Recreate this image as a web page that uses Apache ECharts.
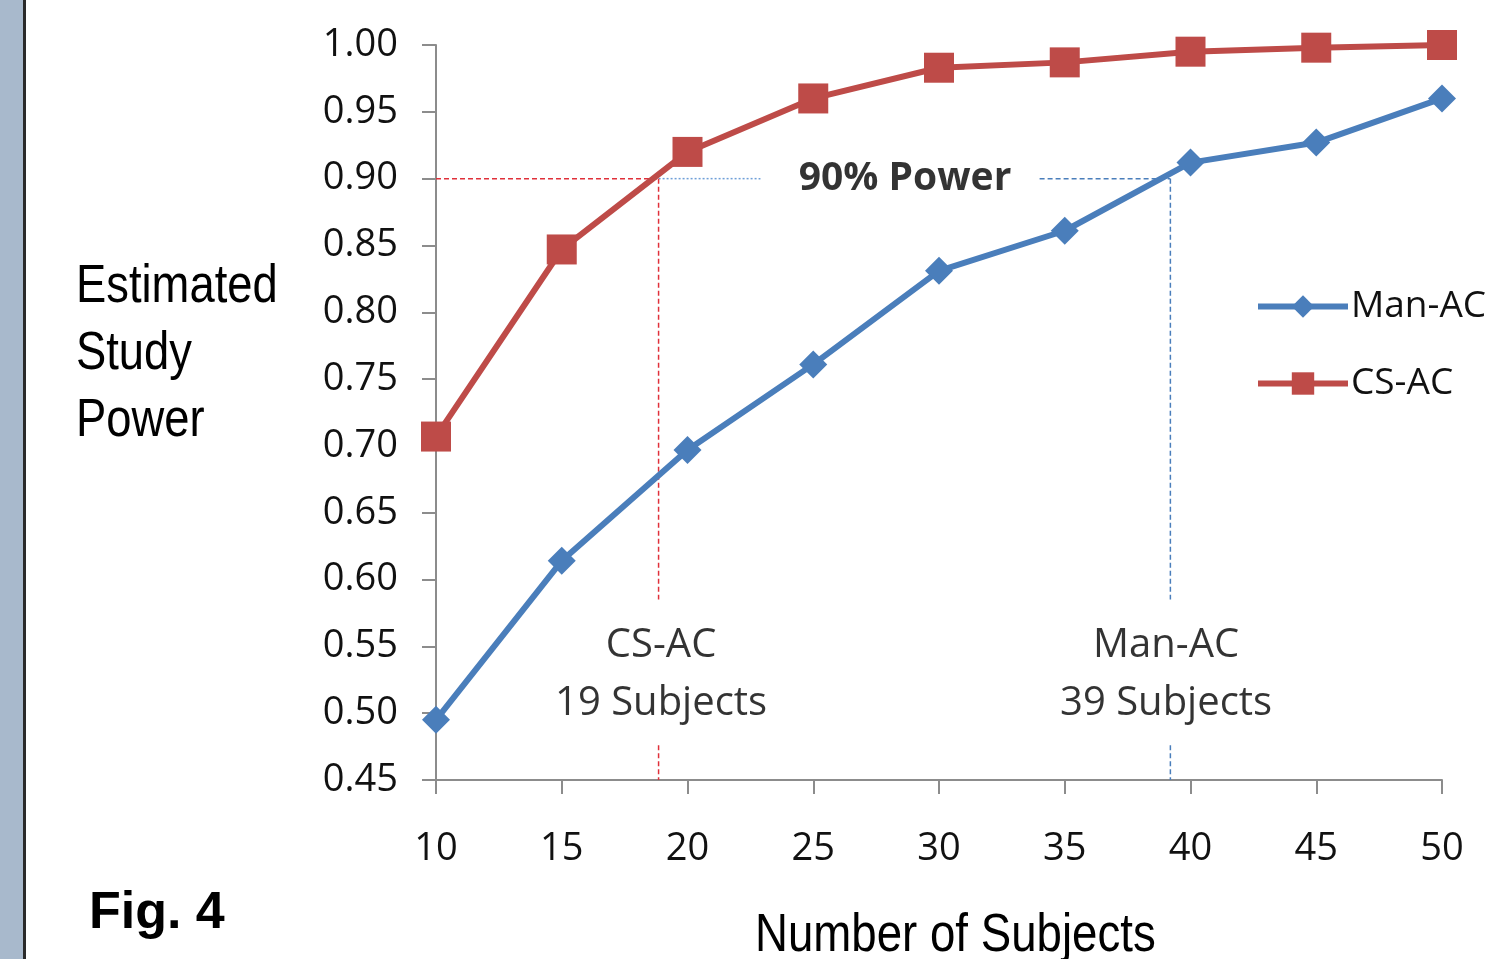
<!DOCTYPE html>
<html>
<head>
<meta charset="utf-8">
<script src="https://cdn.jsdelivr.net/npm/echarts@6/dist/echarts.min.js"></script>
<style>
html,body{margin:0;padding:0;background:#fff;}
#c{width:1500px;height:959px;}
</style>
</head>
<body>
<div id="c"></div>
<script>
// ---- data ----
const subjects = [10, 15, 20, 25, 30, 35, 40, 45, 50];
const manAC = [0.495, 0.614, 0.697, 0.761, 0.831, 0.861, 0.912, 0.927, 0.960];
const csAC  = [0.707, 0.847, 0.920, 0.960, 0.983, 0.987, 0.995, 0.998, 1.000];
const yTicks = [0.45, 0.50, 0.55, 0.60, 0.65, 0.70, 0.75, 0.80, 0.85, 0.90, 0.95, 1.00];
const powerTarget = 0.90;
const csCrossing = 18.85;
const manCrossing = 39.2;
// annotation guide segments (x/y in data units)
const redHoriz = [[10, powerTarget], [csCrossing, powerTarget]];
const blueHorizA = [[csCrossing, powerTarget], [22.9, powerTarget]];
const blueHorizB = [[34.0, powerTarget], [manCrossing, powerTarget]];
const redVertA = [[csCrossing, powerTarget], [csCrossing, 0.585]];
const redVertB = [[csCrossing, 0.476], [csCrossing, 0.45]];
const blueVertA = [[manCrossing, powerTarget], [manCrossing, 0.585]];
const blueVertB = [[manCrossing, 0.476], [manCrossing, 0.45]];
const annotations = [
  {pos: [28.65, 0.90], text: '90% Power', bold: true},
  {pos: [18.95, 0.529], text: 'CS-AC\n19 Subjects', bold: false},
  {pos: [39.03, 0.529], text: 'Man-AC\n39 Subjects', bold: false}
];

const BLUE = '#4a7ebb';
const RED = '#be4b48';
const FONT = 'Open Sans';
const NARROW = '"Liberation Sans", Arial, sans-serif';

function guide(data, color, type) {
  return {
    type: 'line', data: data, symbol: 'none', silent: true, z: 1,
    lineStyle: {color: color, width: 1.5, type: type}, legendHoverLink: false, tooltip: {show: false}
  };
}

const chart = echarts.init(document.getElementById('c'), null, {renderer: 'canvas'});
chart.setOption({
  animation: false,
  backgroundColor: '#fff',
  grid: {left: 436, right: 58, top: 45, bottom: 179, containLabel: false},
  xAxis: {
    type: 'value', min: 10, max: 50, interval: 5,
    axisLine: {onZero: false, lineStyle: {color: '#8c8c8c', width: 2}},
    axisTick: {show: true, inside: false, length: 14, lineStyle: {color: '#8c8c8c', width: 2}},
    axisLabel: {fontFamily: FONT, fontSize: 38, color: '#111', margin: 50},
    splitLine: {show: false}
  },
  yAxis: {
    type: 'value', min: 0.45, max: 1.0, interval: 0.05,
    axisLine: {show: true, lineStyle: {color: '#8c8c8c', width: 2}},
    axisTick: {show: true, inside: false, length: 14, lineStyle: {color: '#8c8c8c', width: 2}},
    axisLabel: {fontFamily: FONT, fontSize: 38, color: '#111', margin: 38,
      formatter: v => v.toFixed(2)},
    splitLine: {show: false}
  },
  legend: {
    orient: 'vertical', left: 1250, top: 283,
    itemWidth: 90, itemHeight: 28, itemGap: 40,
    lineStyle: {width: 6},
    textStyle: {fontFamily: FONT, fontSize: 37, color: '#111', padding: [0,0,0,-2]},
    data: ['Man-AC', 'CS-AC']
  },
  series: [
    guide(redHoriz, '#e0303a', [5, 3]),
    guide(blueHorizA, '#6f9fd8', [2, 2]),
    guide(blueHorizB, BLUE, [5, 3]),
    guide(redVertA, '#e0303a', [5, 3]),
    guide(redVertB, '#e0303a', [5, 3]),
    guide(blueVertA, BLUE, [5, 3]),
    guide(blueVertB, BLUE, [5, 3]),
    {
      name: 'Man-AC', type: 'line', z: 3,
      data: subjects.map((s, i) => [s, manAC[i]]),
      symbol: 'diamond', symbolSize: [28, 28],
      lineStyle: {color: BLUE, width: 6}, itemStyle: {color: BLUE}
    },
    {
      name: 'CS-AC', type: 'line', z: 4,
      data: subjects.map((s, i) => [s, csAC[i]]),
      symbol: 'rect', symbolSize: [30, 30],
      lineStyle: {color: RED, width: 6}, itemStyle: {color: RED}
    },
    {
      type: 'scatter', silent: true, z: 5, symbolSize: 0,
      data: annotations.map(a => ({value: a.pos, label: {
        show: true, position: 'inside', formatter: a.text,
        fontFamily: FONT, fontSize: a.bold ? 39 : 40, lineHeight: 58,
        fontWeight: a.bold ? 'bold' : 'normal', color: '#000', align: 'center'
      }}))
    }
  ],
  graphic: [
    {type: 'rect', left: 0, top: 0, shape: {width: 23, height: 959}, style: {fill: '#a8b9cc'}},
    {type: 'rect', left: 23, top: 0, shape: {width: 3, height: 959}, style: {fill: '#2a2a2a'}},
    {type: 'text', x: 76, y: 254, scaleX: 0.84, style: {text: 'Estimated\nStudy\nPower', font: '54px ' + NARROW, lineHeight: 67, fill: '#000'}},
    {type: 'text', x: 755, y: 909, scaleX: 0.845, style: {text: 'Number of Subjects', font: '54px ' + NARROW, fill: '#000'}},
    {type: 'text', left: 89, top: 888, style: {text: 'Fig. 4', font: 'bold 52px "Liberation Sans", Arial, sans-serif', fill: '#000'}}
  ]
});
</script>
</body>
</html>
